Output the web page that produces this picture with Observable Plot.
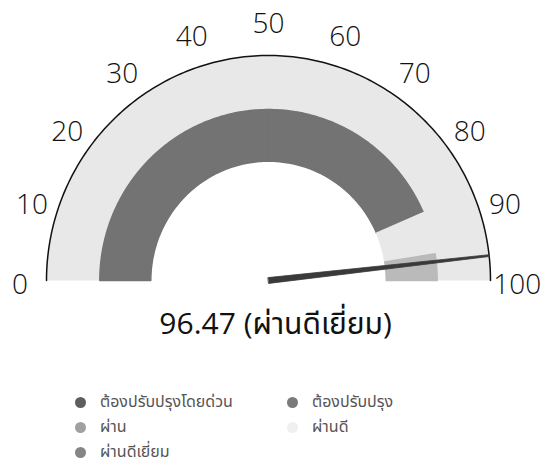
<!DOCTYPE html>
<html>
<head>
<meta charset="utf-8">
<script src="https://cdn.jsdelivr.net/npm/d3@7"></script>
<script src="https://cdn.jsdelivr.net/npm/@observablehq/plot@0.6"></script>
<style>
  html, body { margin: 0; padding: 0; background: #fff; }
  #wrap { position: relative; width: 545px; height: 466px; overflow: hidden; }
  #legend {
    position: absolute; left: 75px; top: 391px;
    display: grid; grid-template-columns: 212px 200px; grid-auto-rows: 25px;
    font-family: "Noto Sans Thai", "Noto Sans", "Open Sans", sans-serif; font-size: 16px; color: #555;
  }
  .item { display: flex; align-items: center; height: 22px; white-space: nowrap; }
  .dot { width: 11px; height: 11px; border-radius: 50%; margin-right: 14px; flex: none; }
</style>
</head>
<body>
<div id="wrap"><div id="chart"></div><div id="legend"></div></div>
<script>
// ---- data ----
const bandLabels = ["ต้องปรับปรุงโดยด่วน", "ต้องปรับปรุง", "ผ่าน", "ผ่านดี", "ผ่านดีเยี่ยม"];
const bandFrom = [0, 50, 70, 87, 95];
const bandTo = [50, 70, 87, 95, 100];
const bandColors = ["#737373", "#737373", "#737373", "#e8e8e8", "#bababa"];
const legendColors = ["#5e5e5e", "#7a7a7a", "#a0a0a0", "#f0f0f0", "#858585"];
const tickValues = [0, 10, 20, 30, 40, 50, 60, 70, 80, 90, 100];
const gaugeValue = 96.47;
const valueText = "96.47 (ผ่านดีเยี่ยม)";

// ---- geometry helpers (style) ----
const CX = 268, CY = 280, RX = 222, RY = 225;
const xDomain = [-1.2, 1.25], yDomain = [-0.4, 1.25];
const xRange = xDomain.map(d => CX + RX * d);
const yRange = yDomain.map(d => CY - RY * d);
const ang = v => Math.PI * (1 - v / 100);
const R_IN = 0.53, R_BAND = 0.76, R_OUT = 1;

function ring(v0, v1, r0, r1, key) {
  const pts = [];
  const n = Math.max(2, Math.ceil((v1 - v0) * 2));
  for (let i = 0; i <= n; i++) { const a = ang(v0 + (v1 - v0) * i / n); pts.push({x: r1 * Math.cos(a), y: r1 * Math.sin(a), k: key}); }
  for (let i = n; i >= 0; i--) { const a = ang(v0 + (v1 - v0) * i / n); pts.push({x: r0 * Math.cos(a), y: r0 * Math.sin(a), k: key}); }
  return pts;
}
function arc(v0, v1, r) {
  const pts = [];
  for (let i = 0; i <= 200; i++) { const a = ang(v0 + (v1 - v0) * i / 200); pts.push({x: r * Math.cos(a), y: r * Math.sin(a)}); }
  return pts;
}

const background = ring(0, 100, R_IN, R_OUT, "bg");
const bandPts = bandLabels.flatMap((l, i) => ring(bandFrom[i], bandTo[i], R_IN, R_BAND, l));

// needle polygon
const na = ang(gaugeValue);
const ux = Math.cos(na), uy = Math.sin(na);
const px = -uy, py = ux;
const bw = 0.013, tw = 0.004;
const needle = [
  {x: px * bw, y: py * bw},
  {x: ux * R_OUT + px * tw, y: uy * R_OUT + py * tw},
  {x: ux * R_OUT - px * tw, y: uy * R_OUT - py * tw},
  {x: -px * bw, y: -py * bw}
];

const chart = Plot.plot({
  width: 545, height: 370,
  margin: 0,
  x: {domain: xDomain, range: xRange, axis: null},
  y: {domain: yDomain, range: yRange, axis: null},
  color: {domain: bandLabels, range: bandColors},
  marks: [
    Plot.line(background, {x: "x", y: "y", fill: "#e8e8e8", stroke: "none", curve: "linear-closed"}),
    Plot.line(bandPts, {x: "x", y: "y", z: "k", fill: "k", stroke: "k", strokeWidth: 1.4, curve: "linear-closed"}),
    Plot.line(arc(0, 100, R_OUT), {x: "x", y: "y", stroke: "#111", strokeWidth: 1.5}),
    Plot.line(needle, {x: "x", y: "y", fill: "#3a3a3a", stroke: "#3a3a3a", strokeWidth: 0.8, curve: "linear-closed"}),
    Plot.text(tickValues, {
      x: v => 1.12 * Math.cos(ang(v)),
      y: v => 1.16 * Math.sin(ang(v)),
      text: v => String(v), dy: 5,
      fontSize: 28, fontFamily: "Open Sans", fontWeight: 300, fill: "#111"
    }),
    Plot.text([valueText], {
      x: () => 0.032, y: () => -0.195, text: d => d,
      fontSize: 30, fontFamily: "Open Sans, Noto Sans Thai, Noto Sans", fontWeight: 400, fill: "#111"
    })
  ]
});
document.getElementById("chart").appendChild(chart);

const legend = document.getElementById("legend");
bandLabels.forEach((l, i) => {
  const it = document.createElement("div");
  it.className = "item";
  it.innerHTML = `<span class="dot" style="background:${legendColors[i]}"></span><span>${l}</span>`;
  legend.appendChild(it);
});
</script>
</body>
</html>
